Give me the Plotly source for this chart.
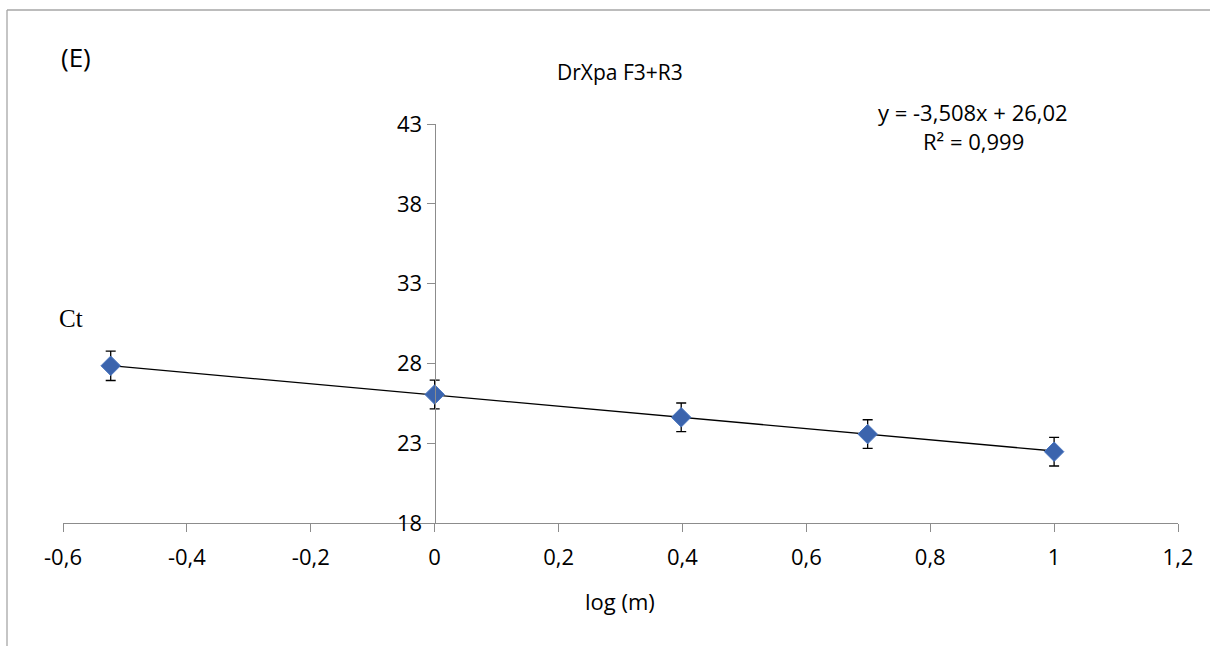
import plotly.graph_objects as go

# Data
log_m = [-0.523, 0.0, 0.398, 0.699, 1.0]
ct = [27.85, 26.05, 24.62, 23.57, 22.47]
ct_err = [0.92, 0.9, 0.9, 0.9, 0.9]
slope = -3.508
intercept = 26.02
x_ticks = [-0.6, -0.4, -0.2, 0, 0.2, 0.4, 0.6, 0.8, 1.0, 1.2]
x_ticktext = ["-0,6", "-0,4", "-0,2", "0", "0,2", "0,4", "0,6", "0,8", "1", "1,2"]
y_ticks = [18, 23, 28, 33, 38, 43]

FONT = "Open Sans"
OFF = 0  # body margin removed via post_script
W, H = 1210 - OFF, 646 - OFF
L, T = 63 - OFF, 124 - OFF
R = W - (1178 - OFF)
B = H - (523 - OFF)
pw, ph = W - L - R, H - T - B


def px(x):
    """page pixel x -> paper fraction"""
    return (x - OFF - L) / pw


def py(y):
    """page pixel y -> paper fraction"""
    return (H - B - (y - OFF)) / ph


fig = go.Figure()

trend_x = [min(log_m), max(log_m)]
trend_y = [slope * v + intercept for v in trend_x]
fig.add_trace(go.Scatter(x=trend_x, y=trend_y, mode="lines",
                         line=dict(color="black", width=1.3),
                         hoverinfo="skip", showlegend=False))

fig.add_trace(go.Scatter(
    x=log_m, y=ct, mode="markers",
    marker=dict(symbol="diamond", size=15, color="#3b64ad",
                line=dict(color="#4a76c0", width=1)),
    error_y=dict(type="data", array=ct_err, visible=True,
                 color="black", thickness=1.3, width=5),
    showlegend=False))

fig.update_layout(
    width=W, height=H,
    margin=dict(l=L, r=R, t=T, b=B, pad=0),
    paper_bgcolor="white", plot_bgcolor="white",
    font=dict(family=FONT, size=22, color="black"),
    xaxis=dict(range=[-0.6, 1.2], tickvals=x_ticks, ticktext=x_ticktext,
               showgrid=False, zeroline=False, showline=True,
               linecolor="#8c8c8c", linewidth=1.3,
               ticks="outside", ticklen=8, tickcolor="#8c8c8c", tickwidth=1.3,
               tickfont=dict(family=FONT, size=22), ticklabelstandoff=6,
               anchor="y"),
    yaxis=dict(range=[18, 43], tickvals=y_ticks,
               showgrid=False, zeroline=False, showline=True,
               linecolor="#8c8c8c", linewidth=1.3,
               ticks="outside", ticklen=8, tickcolor="#8c8c8c", tickwidth=1.3,
               tickfont=dict(family=FONT, size=22),
               anchor="free", position=1/3),
    showlegend=False,
)

ann = [
    dict(text="(E)", x=px(76), y=py(57), size=26, family=FONT),
    dict(text="DrXpa F3+R3", x=px(620), y=py(72), size=21, family=FONT),
    dict(text="y = -3,508x + 26,02", x=px(973), y=py(112), size=22, family=FONT),
    dict(text="R² = 0,999", x=px(973), y=py(141), size=22, family=FONT),
    dict(text="Ct", x=px(71), y=py(318), size=25, family="Liberation Serif"),
    dict(text="log (m)", x=px(620), y=py(601), size=22, family=FONT),
]
for a in ann:
    fig.add_annotation(text=a["text"], x=a["x"], y=a["y"], xref="paper", yref="paper",
                       xanchor="center", yanchor="middle", showarrow=False,
                       font=dict(family=a["family"], size=a["size"], color="black"))

# chart border (top and left edges visible)
fig.add_shape(type="line", xref="paper", yref="paper",
              x0=px(7), y0=py(10), x1=px(1215), y1=py(10),
              line=dict(color="#a6a6a6", width=1.3))
fig.add_shape(type="line", xref="paper", yref="paper",
              x0=px(7), y0=py(10), x1=px(7), y1=py(650),
              line=dict(color="#a6a6a6", width=1.3))

fig.write_html(
    "out.html",
    config={"displayModeBar": False},
    post_script="document.body.style.margin='0px';"
                "document.body.style.overflow='hidden';"
                "document.documentElement.style.overflow='hidden';",
)
